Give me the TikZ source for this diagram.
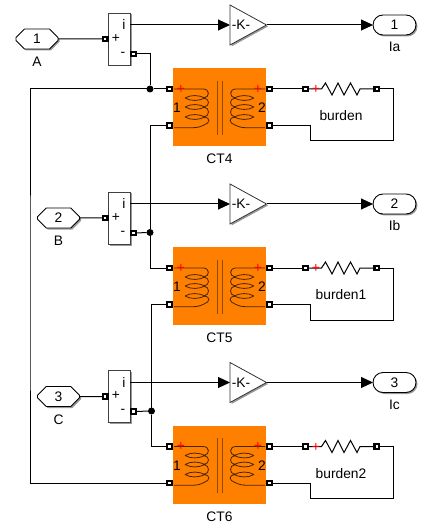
\documentclass[tikz,border=0pt]{standalone}
\usepackage{fontspec}
\setmainfont{Liberation Sans}
\usetikzlibrary{arrows.meta,shapes.geometric,shapes.misc,shadows}
\definecolor{ctorange}{HTML}{FF8000}
\definecolor{coildark}{HTML}{4A2600}
\definecolor{corebrown}{HTML}{8F4A00}
\tikzset{
  x=1pt,y=-1pt,
  every node/.style={font=\fontsize{13.8}{16}\selectfont,inner sep=0pt,outer sep=0pt},
  softshadow/.style={drop shadow={shadow xshift=1.5pt,shadow yshift=-1.5pt,opacity=.4,fill=black}},
  wire/.style={draw=black,line width=1pt},
  flow/.style={wire,-{Triangle[length=12pt,width=11pt]}},
  portbox/.style={rectangle,draw=black,fill=white,line width=2.2pt,minimum size=4.6pt},
  jdot/.style={circle,fill=black,minimum size=7pt},
  inportbox/.style={chamfered rectangle,chamfered rectangle xsep=11pt,chamfered rectangle ysep=10pt,
    draw=black,fill=white,line width=.9pt,minimum width=42pt,minimum height=20pt,softshadow},
  outportbox/.style={rounded rectangle,draw=black,fill=white,line width=.9pt,minimum width=43pt,minimum height=20pt,softshadow},
  sumbox/.style={rectangle,draw=black!75,fill=white,line width=.9pt,minimum width=22pt,minimum height=52pt,softshadow},
  gainbox/.style={isosceles triangle,isosceles triangle stretches,shape border rotate=0,draw=black!80,fill=white,line width=.8pt,minimum width=40pt,minimum height=36.5pt,softshadow},
  ctbox/.style={rectangle,fill=ctorange,minimum width=93pt,minimum height=78pt},
  coil/.style={draw=coildark,line width=.8pt},
  core/.style={draw=corebrown,line width=1pt},
  redplus/.style={text=red,font=\fontsize{14}{14}\selectfont},
}
\newcommand{\CoilShape}{%
  \draw[coil] (174,89) -- (203,89) .. controls (210,89) and (210,97) .. (204,98)
    .. controls (210,99) and (210,106) .. (204,107)
    .. controls (210,108) and (210,116) .. (204,117)
    .. controls (211,118) and (210,123) .. (204,125)
    .. controls (200,127) and (197,127.7) .. (193,127.7) -- (174,127.7);
  \foreach \yy in {98,107,117}{
    \draw[coil] (185,\yy) .. controls (191,\yy-3.5) and (199,\yy-3) .. (205,\yy)
      .. controls (199,\yy+3) and (191,\yy+3.5) .. (185,\yy);
  }%
}
\newcommand{\PhaseRow}[8]{% n, shift, hex x, letter, out name, burden, CT, number
\begin{scope}[shift={(0,#2)}]
  \node[ctbox] (ct#1) at (219.5,107) {};
  \CoilShape
  \begin{scope}[xshift=439pt,xscale=-1]\CoilShape\end{scope}
  \draw[core] (217,80.7) -- (217,135);
  \draw[core] (222.7,80.7) -- (222.7,135);
  \node[redplus] (plusl#1) at (181,89) {+};
  \node[redplus] (plusr#1) at (258,89) {+};
  \node (wa#1) at (177,108) {1};
  \node (wb#1) at (262,108) {2};
  \node (ctname#1) at (219.5,159) {#7};
  \node[portbox] (ctia#1) at (169.4,89) {};
  \node[portbox] (ctib#1) at (169.4,125.5) {};
  \node[portbox] (ctoa#1) at (269.4,89) {};
  \node[portbox] (ctob#1) at (269.4,125.5) {};
  \node[inportbox] (in#1) at (#3,39) {#8};
  \node (inname#1) at (#3,62) {#4};
  \node[sumbox] (sum#1) at (119,39) {};
  \node (si#1) at (124,24.5) {i};
  \node (sp#1) at (116,38.5) {+};
  \node (sm#1) at (123,54) {-};
  \node[portbox] (sumin#1) at (105.2,39) {};
  \node[portbox] (summinus#1) at (133.4,54) {};
  \node[gainbox,anchor=lower side] (gain#1) at (230,25) {};
  \node (ktext#1) at (241,25) {-K-};
  \node[outportbox] (out#1) at (394.5,25) {#8};
  \node (outname#1) at (394.5,47) {#5};
  \node[portbox] (ra#1) at (305.3,89) {};
  \node[portbox] (rb#1) at (376.7,89) {};
  \node (bname#1) at (341,116) {#6};
  \coordinate (rcorner#1) at (393.3,141);
  \draw[wire] (in#1) -- (sumin#1);
  \draw[flow] (sum#1.east |- gain#1.lower side) -- (gain#1.lower side);
  \draw[flow] (gain#1.apex) -- (out#1.west);
  \draw[wire] (ctoa#1) -- (ra#1);
  \draw[wire] (ra#1) -- (321.5,89) -- (325.5,83) -- (332,95) -- (338,83) -- (344,95) -- (350.5,83) -- (357,95) -- (360,89) -- (rb#1);
  \draw[wire] (rb#1) -| (rcorner#1) -- (310.3,141) |- (ctob#1);
  \node[redplus] (plusb#1) at (316,89.5) {+};
\end{scope}}
\begin{document}
\begin{tikzpicture}
\useasboundingbox (0,0) rectangle (433,526);
\PhaseRow{1}{0}{37}{A}{Ia}{burden}{CT4}{1}
\PhaseRow{2}{179}{58.5}{B}{Ib}{burden1}{CT5}{2}
\PhaseRow{3}{357.5}{58.5}{C}{Ic}{burden2}{CT6}{3}
\node[jdot] (j1) at (150,89) {};
\node[jdot] (j2) at (150,232.5) {};
\node[jdot] (j3) at (151.5,411) {};
\coordinate (leftbus) at (30,300);
\draw[wire] (summinus1) -| (j1);
\draw[wire] (ctia1) -- (j1);
\draw[wire] (j1) -| (leftbus) |- (ctib3);
\draw[wire] (ctib1) -| (j2);
\draw[wire] (summinus2) -- (j2);
\draw[wire] (j2) |- (ctia2);
\draw[wire] (ctib2) -| (j3);
\draw[wire] (summinus3) -- (j3);
\draw[wire] (j3) |- (ctia3);
\end{tikzpicture}
\end{document}
